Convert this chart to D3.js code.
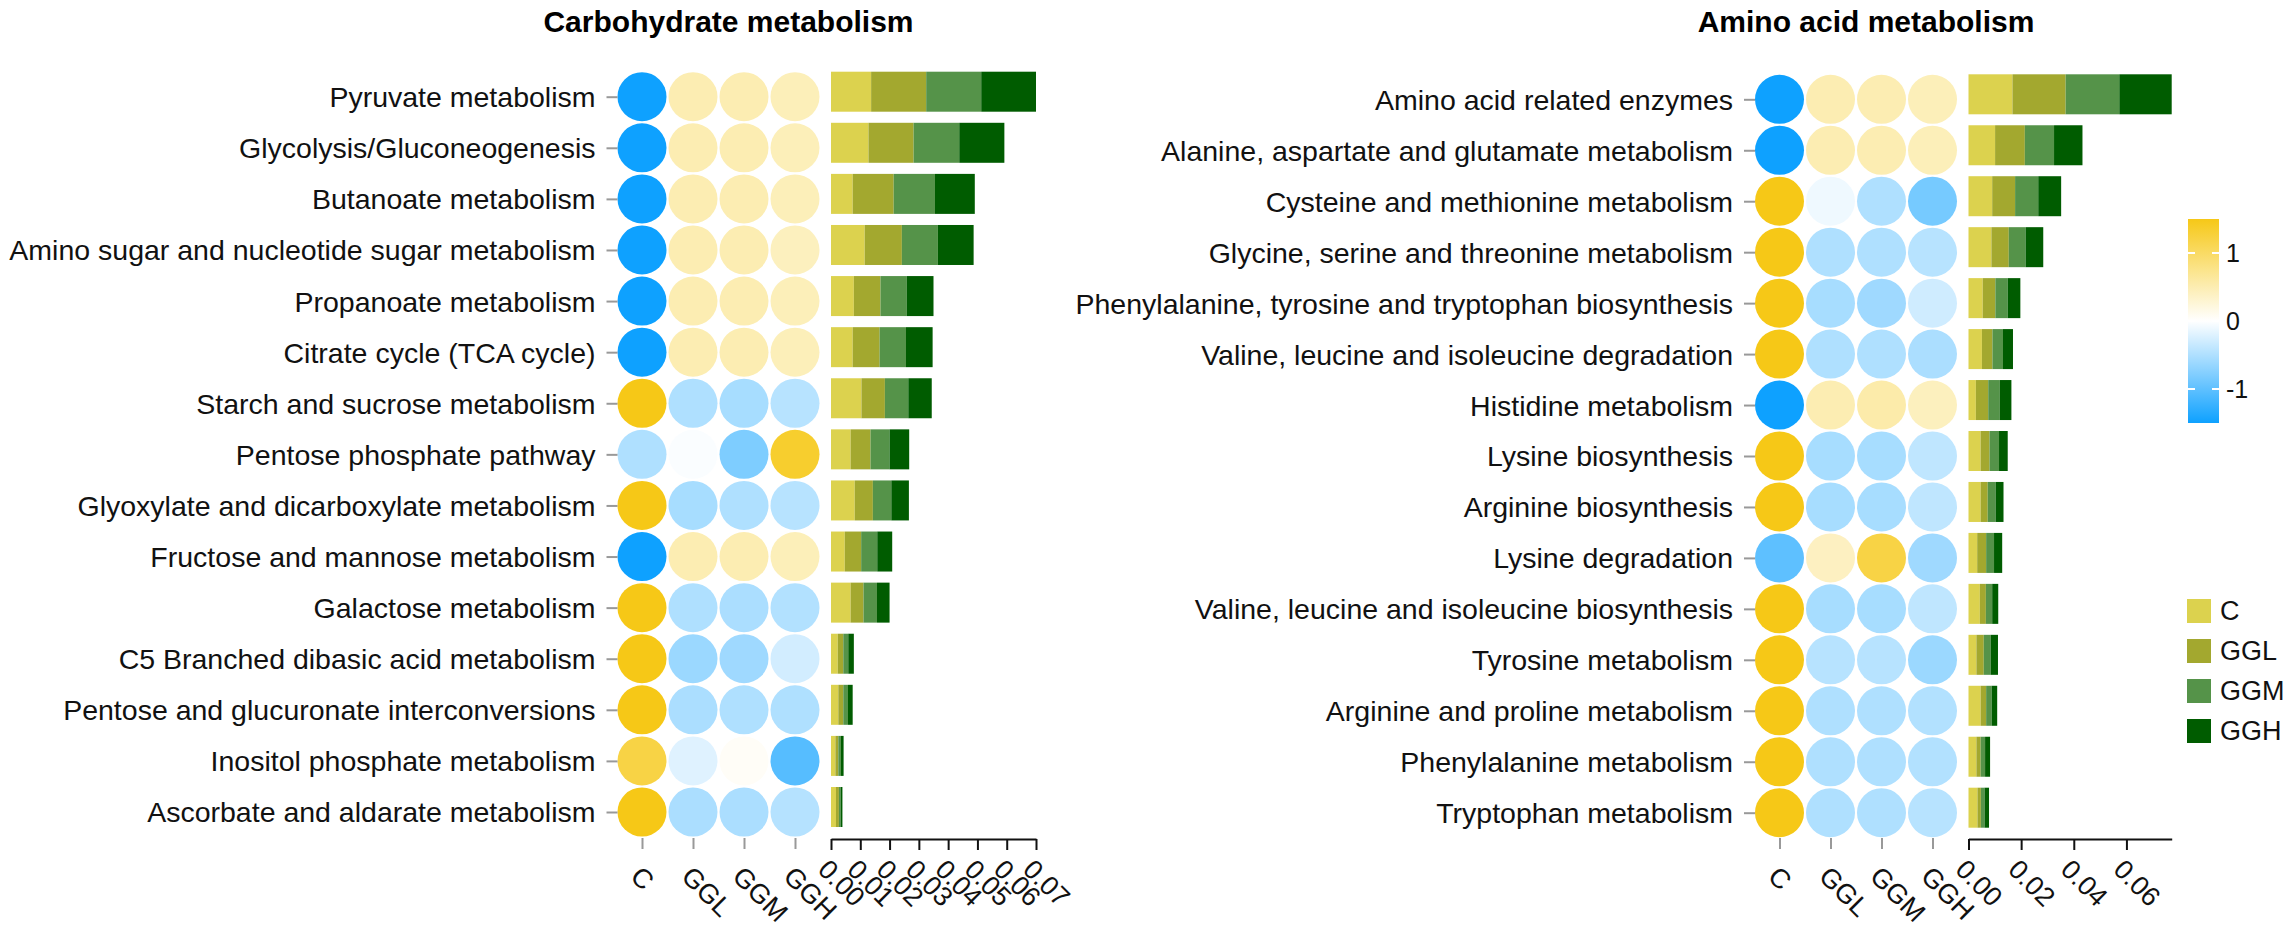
<!DOCTYPE html>
<html>
<head>
<meta charset="utf-8">
<script src="https://cdn.jsdelivr.net/npm/d3@7"></script>
<style>
  body { margin: 0; background: white; }
  svg { font-family: "Liberation Sans", Arial, sans-serif; }
</style>
</head>
<body>
<svg id="chart" width="2288" height="929"></svg>
<script>
// groups used for both the dot columns and the stacked bar segments
var groups = ["C", "GGL", "GGM", "GGH"];
var groupColors = ["#dcd24e", "#a3a82f", "#559349", "#005c00"];

var carbPathways = [
    "Pyruvate metabolism",
    "Glycolysis/Gluconeogenesis",
    "Butanoate metabolism",
    "Amino sugar and nucleotide sugar metabolism",
    "Propanoate metabolism",
    "Citrate cycle (TCA cycle)",
    "Starch and sucrose metabolism",
    "Pentose phosphate pathway",
    "Glyoxylate and dicarboxylate metabolism",
    "Fructose and mannose metabolism",
    "Galactose metabolism",
    "C5 Branched dibasic acid metabolism",
    "Pentose and glucuronate interconversions",
    "Inositol phosphate metabolism",
    "Ascorbate and aldarate metabolism"
];

// row z-scores, one value per group (C, GGL, GGM, GGH)
var carbZ = [
    [-1.5, 0.5, 0.5, 0.45],
    [-1.5, 0.5, 0.5, 0.45],
    [-1.5, 0.5, 0.5, 0.45],
    [-1.5, 0.5, 0.5, 0.42],
    [-1.5, 0.5, 0.5, 0.45],
    [-1.5, 0.5, 0.5, 0.45],
    [1.5, -0.5, -0.55, -0.45],
    [-0.5, -0.03, -0.8, 1.35],
    [1.5, -0.55, -0.5, -0.45],
    [-1.5, 0.5, 0.5, 0.45],
    [1.5, -0.5, -0.52, -0.48],
    [1.5, -0.62, -0.6, -0.28],
    [1.5, -0.52, -0.5, -0.5],
    [1.2, -0.2, 0.05, -1.05],
    [1.5, -0.52, -0.52, -0.46]
];

// relative abundance, one value per group (C, GGL, GGM, GGH)
var carbAbund = [
    [0.0137, 0.0188, 0.0188, 0.0187],
    [0.0128, 0.0154, 0.0156, 0.0154],
    [0.0074, 0.0140, 0.0141, 0.0136],
    [0.0115, 0.0127, 0.0123, 0.0122],
    [0.0078, 0.0091, 0.0090, 0.0091],
    [0.0074, 0.0092, 0.0090, 0.0091],
    [0.0104, 0.0080, 0.0080, 0.0080],
    [0.0067, 0.0068, 0.0065, 0.0067],
    [0.0081, 0.0062, 0.0063, 0.0060],
    [0.0047, 0.0056, 0.0055, 0.0051],
    [0.0067, 0.0044, 0.0046, 0.0043],
    [0.0023, 0.0019, 0.0017, 0.0019],
    [0.0025, 0.0017, 0.0016, 0.0016],
    [0.0015, 0.0010, 0.0009, 0.0009],
    [0.0017, 0.0010, 0.0006, 0.0006]
];
var carbTicks = [0, 0.01, 0.02, 0.03, 0.04, 0.05, 0.06, 0.07];

var aminoPathways = [
    "Amino acid related enzymes",
    "Alanine, aspartate and glutamate metabolism",
    "Cysteine and methionine metabolism",
    "Glycine, serine and threonine metabolism",
    "Phenylalanine, tyrosine and tryptophan biosynthesis",
    "Valine, leucine and isoleucine degradation",
    "Histidine metabolism",
    "Lysine biosynthesis",
    "Arginine biosynthesis",
    "Lysine degradation",
    "Valine, leucine and isoleucine biosynthesis",
    "Tyrosine metabolism",
    "Arginine and proline metabolism",
    "Phenylalanine metabolism",
    "Tryptophan metabolism"
];

var aminoZ = [
    [-1.5, 0.5, 0.5, 0.45],
    [-1.5, 0.5, 0.5, 0.45],
    [1.5, -0.1, -0.5, -0.85],
    [1.5, -0.5, -0.5, -0.45],
    [1.5, -0.55, -0.6, -0.3],
    [1.5, -0.5, -0.5, -0.52],
    [-1.5, 0.5, 0.55, 0.42],
    [1.5, -0.55, -0.55, -0.4],
    [1.5, -0.55, -0.55, -0.4],
    [-1.0, 0.4, 1.2, -0.6],
    [1.5, -0.55, -0.55, -0.4],
    [1.5, -0.45, -0.45, -0.62],
    [1.5, -0.5, -0.5, -0.48],
    [1.5, -0.5, -0.5, -0.48],
    [1.5, -0.5, -0.5, -0.45]
];

var aminoAbund = [
    [0.0167, 0.0202, 0.0204, 0.0199],
    [0.0101, 0.0113, 0.0111, 0.0108],
    [0.0090, 0.0087, 0.0088, 0.0087],
    [0.0087, 0.0066, 0.0064, 0.0067],
    [0.0054, 0.0048, 0.0047, 0.0048],
    [0.0051, 0.0040, 0.0040, 0.0038],
    [0.0028, 0.0047, 0.0044, 0.0044],
    [0.0046, 0.0034, 0.0036, 0.0033],
    [0.0046, 0.0027, 0.0030, 0.0030],
    [0.0033, 0.0034, 0.0030, 0.0031],
    [0.0043, 0.0023, 0.0024, 0.0023],
    [0.0030, 0.0028, 0.0026, 0.0028],
    [0.0046, 0.0021, 0.0021, 0.0021],
    [0.0030, 0.0016, 0.0017, 0.0019],
    [0.0034, 0.0013, 0.0014, 0.0017]
];
var aminoTicks = [0, 0.02, 0.04, 0.06];

var legendTicks = [-1, 0, 1];

var zColor = d3.scaleLinear()
    .domain([-1.5, 0, 1.5])
    .range(["#0ea1ff", "#ffffff", "#f6c817"]);

var svg = d3.select("#chart");

function draw_panel(p) {
    var g = svg.append("g");
    var r = 24.5;
    var x = d3.scalePoint().domain(groups).range(p.dotRange);
    var y = d3.scalePoint().domain(p.pathways).range(p.rowRange);
    var totals = p.abund.map(function(row) { return d3.sum(row); });
    var xb = d3.scaleLinear().domain([0, d3.max(totals)]).range(p.barRange);
    var axisY = 838;

    // title, centred over the dots
    g.append("text")
        .attr("x", (p.dotRange[0] + p.dotRange[1]) / 2 + 10)
        .attr("y", 32)
        .attr("text-anchor", "middle")
        .style("font-size", "30px")
        .style("font-weight", "bold")
        .text(p.title);

    // dots
    p.pathways.forEach(function(name, i) {
        groups.forEach(function(grp, j) {
            g.append("circle")
                .attr("cx", x(grp))
                .attr("cy", y(name))
                .attr("r", r)
                .attr("fill", zColor(p.z[i][j]));
        });
    });

    // stacked bars
    p.pathways.forEach(function(name, i) {
        var start = 0;
        groups.forEach(function(grp, j) {
            var v = p.abund[i][j];
            g.append("rect")
                .attr("x", xb(start))
                .attr("y", y(name) - 25)
                .attr("width", xb(start + v) - xb(start))
                .attr("height", 40)
                .attr("fill", groupColors[j]);
            start += v;
        });
    });

    // y axis with pathway names
    var yAxis = g.append("g")
        .attr("transform", "translate(" + (p.dotRange[0] - r) + ",0)")
        .call(d3.axisLeft(y).tickSize(11).tickPadding(11));
    yAxis.select(".domain").remove();
    yAxis.selectAll("line").attr("stroke", "#999").attr("stroke-width", 2);
    yAxis.selectAll("text")
        .attr("fill", "#111")
        .style("font-size", "28.5px")
        .attr("dy", "0.35em");

    // x axis under the dots
    var xAxis = g.append("g")
        .attr("transform", "translate(0," + axisY + ")")
        .call(d3.axisBottom(x).tickSize(11));
    xAxis.select(".domain").remove();
    xAxis.selectAll("line").attr("stroke", "#999").attr("stroke-width", 2);
    xAxis.selectAll("text")
        .attr("y", 0).attr("dy", 0)
        .attr("text-anchor", "start")
        .attr("fill", "#111")
        .attr("transform", "translate(-13.5,40) rotate(45)")
        .style("font-size", "27px");

    // x axis under the bars
    var bAxis = g.append("g")
        .attr("transform", "translate(0," + (axisY + 1) + ")")
        .call(d3.axisBottom(xb).tickValues(p.ticks).tickFormat(d3.format(".2f"))
              .tickSize(11).tickSizeOuter(0));
    bAxis.select(".domain").attr("stroke", "#111").attr("stroke-width", 2);
    bAxis.selectAll("line").attr("stroke", "#111").attr("stroke-width", 2);
    bAxis.selectAll("text")
        .attr("y", 0).attr("dy", 0)
        .attr("text-anchor", "start")
        .attr("fill", "#111")
        .attr("transform", "translate(-15,32) rotate(45)")
        .style("font-size", "27px");
}

draw_panel({
    title: "Carbohydrate metabolism",
    pathways: carbPathways, z: carbZ, abund: carbAbund, ticks: carbTicks,
    dotRange: [642, 795], rowRange: [96.7, 812], barRange: [831, 1036]
});

draw_panel({
    title: "Amino acid metabolism",
    pathways: aminoPathways, z: aminoZ, abund: aminoAbund, ticks: aminoTicks,
    dotRange: [1779.5, 1932.5], rowRange: [99.3, 812.7], barRange: [1968.5, 2171.7]
});

// colour bar legend
var defs = svg.append("defs");
var grad = defs.append("linearGradient")
    .attr("id", "zgrad")
    .attr("x1", 0).attr("y1", 1).attr("x2", 0).attr("y2", 0);
[-1.5, -0.75, 0, 0.75, 1.5].forEach(function(v) {
    grad.append("stop")
        .attr("offset", (v + 1.5) / 3)
        .attr("stop-color", zColor(v));
});

var ly = d3.scaleLinear().domain([-1.5, 1.5]).range([423, 219]);
var cb = svg.append("g");
cb.append("rect")
    .attr("x", 2188).attr("y", ly(1.5))
    .attr("width", 31).attr("height", ly(-1.5) - ly(1.5))
    .attr("fill", "url(#zgrad)");
legendTicks.forEach(function(t) {
    cb.append("line").attr("x1", 2188).attr("x2", 2195)
        .attr("y1", ly(t)).attr("y2", ly(t))
        .attr("stroke", "white").attr("stroke-width", 2);
    cb.append("line").attr("x1", 2212).attr("x2", 2219)
        .attr("y1", ly(t)).attr("y2", ly(t))
        .attr("stroke", "white").attr("stroke-width", 2);
    cb.append("text")
        .attr("x", 2226).attr("y", ly(t))
        .attr("dy", "0.35em")
        .style("font-size", "25px")
        .attr("fill", "#111")
        .text(t);
});

// group legend
var lg = svg.append("g");
groups.forEach(function(grp, j) {
    lg.append("rect")
        .attr("x", 2187).attr("y", 599 + j * 40)
        .attr("width", 24).attr("height", 24)
        .attr("fill", groupColors[j]);
    lg.append("text")
        .attr("x", 2220).attr("y", 611 + j * 40)
        .attr("dy", "0.35em")
        .style("font-size", "27px")
        .attr("fill", "#111")
        .text(grp);
});
</script>
</body>
</html>
